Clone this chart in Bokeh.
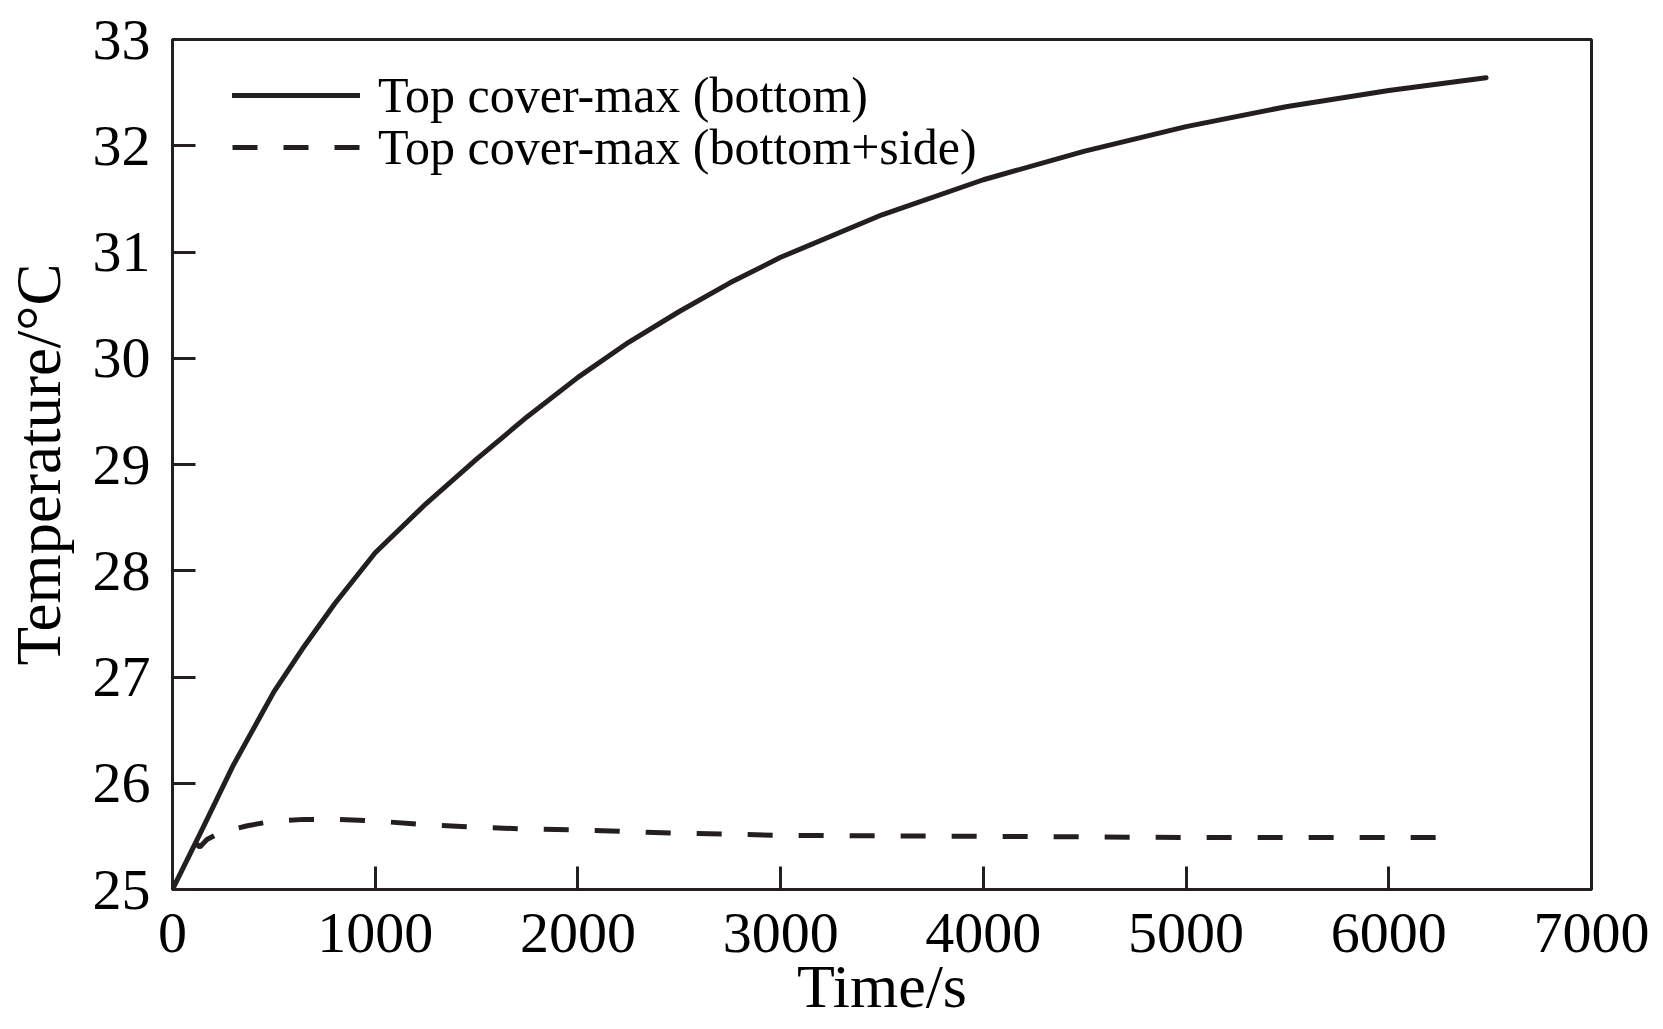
from bokeh.plotting import figure
from bokeh.models import Range1d, FixedTicker, Legend, LegendItem
from bokeh.embed import file_html
from bokeh.resources import INLINE

# Data
time_bottom = [0, 150, 300, 500, 650, 800, 1000, 1250, 1500, 1750, 2000, 2250, 2500,
               2750, 3000, 3500, 4000, 4500, 5000, 5500, 6000, 6480]
temp_bottom = [25.00, 25.58, 26.17, 26.86, 27.29, 27.69, 28.17, 28.63, 29.05, 29.45, 29.82, 30.15,
               30.44, 30.71, 30.95, 31.35, 31.68, 31.95, 32.18, 32.37, 32.52, 32.64]

time_side = [110, 135, 170, 240, 370, 500, 650, 800, 1000, 1250, 1500, 1750, 2000, 2500,
             3000, 4000, 5000, 6350]
temp_side = [25.44, 25.40, 25.47, 25.54, 25.60, 25.645, 25.66, 25.66, 25.645, 25.61, 25.585,
             25.57, 25.56, 25.53, 25.51, 25.50, 25.49, 25.49]

x_ticks = [0, 1000, 2000, 3000, 4000, 5000, 6000, 7000]
y_ticks = [25, 26, 27, 28, 29, 30, 31, 32, 33]

series_labels = ["Top cover-max (bottom)", "Top cover-max (bottom+side)"]

INK = "#231f20"
FONT = "Liberation Serif"

p = figure(width=1653, height=1027, output_backend="svg", toolbar_location=None,
           x_range=Range1d(0, 7000), y_range=Range1d(25, 33),
           min_border_left=164, min_border_right=62, min_border_top=39, min_border_bottom=138)

p.background_fill_color = "white"
p.border_fill_color = "white"
p.grid.visible = False
p.outline_line_color = INK
p.outline_line_width = 3

r1 = p.line(time_bottom, temp_bottom, line_color=INK, line_width=5, line_cap="round")
r2 = p.line(time_side, temp_side, line_color=INK, line_width=5, line_dash="25 26")

for ax in (p.xaxis[0], p.yaxis[0]):
    ax.axis_line_color = INK
    ax.axis_line_width = 3
    ax.major_tick_line_color = INK
    ax.major_tick_line_width = 3
    ax.major_tick_in = 23
    ax.major_tick_out = 0
    ax.minor_tick_line_color = None
    ax.major_label_text_font = FONT
    ax.major_label_text_font_size = "58px"
    ax.major_label_text_color = "black"
    ax.axis_label_text_font = FONT
    ax.axis_label_text_font_size = "62px"
    ax.axis_label_text_font_style = "normal"
    ax.axis_label_text_color = "black"

p.xaxis[0].ticker = FixedTicker(ticks=x_ticks)
p.yaxis[0].ticker = FixedTicker(ticks=y_ticks)
p.xaxis[0].axis_label = "Time/s"
p.yaxis[0].axis_label = "Temperature/°C"
p.yaxis[0].axis_label_text_font_size = "63px"
p.xaxis[0].major_label_standoff = 24
p.yaxis[0].major_label_standoff = 22
p.xaxis[0].axis_label_standoff = -3
p.yaxis[0].axis_label_standoff = 16


def make_legend(label, renderer, y):
    lg = Legend(items=[LegendItem(label=label, renderers=[renderer])], location=(60, y))
    lg.label_text_font = FONT
    lg.label_text_font_size = "50px"
    lg.label_text_color = "black"
    lg.glyph_width = 128
    lg.glyph_height = 46
    lg.label_height = 46
    lg.label_standoff = 18
    lg.padding = 0
    lg.margin = 0
    lg.border_line_alpha = 0
    lg.background_fill_alpha = 0
    return lg


p.add_layout(make_legend(series_labels[0], r1, 765))
p.add_layout(make_legend(series_labels[1], r2, 713))

open("out.html", "w").write(file_html(p, INLINE))
